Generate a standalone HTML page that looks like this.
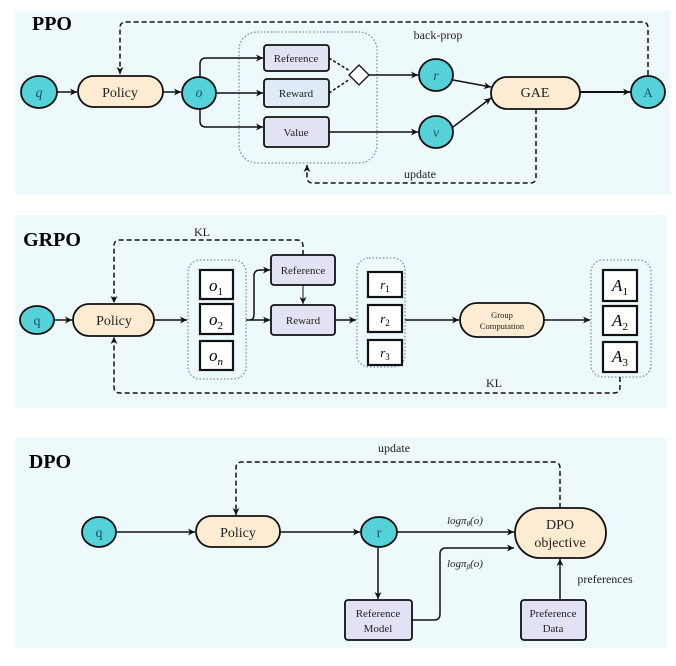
<!DOCTYPE html>
<html><head><meta charset="utf-8"><style>
html,body{margin:0;padding:0;background:#fff;}
svg{display:block;font-family:"Liberation Serif",serif;}
</style></head><body>
<svg width="676" height="666" viewBox="0 0 676 666" xmlns="http://www.w3.org/2000/svg">
<defs>
<marker id="ah" markerWidth="8" markerHeight="8" refX="7" refY="4" orient="auto" markerUnits="userSpaceOnUse">
<path d="M0,0.5 L7,4 L0,7.5 L2,4 Z" fill="#111"/></marker>
</defs>
<rect x="15" y="11" width="655" height="184" fill="#eef9fc"/>
<rect x="15" y="215" width="651" height="193" fill="#eef9fc"/>
<rect x="15" y="437" width="651" height="211" fill="#eef9fc"/>

<g stroke="#111" stroke-width="1.5" fill="none">
<!-- PPO -->
<rect x="239" y="32" width="138" height="131" rx="18" stroke="#7a8fa0" stroke-dasharray="1.5,2" stroke-width="1.3"/>
<path d="M648,75 V28 Q648,22 642,22 H126 Q120,22 120,28 V74" stroke-dasharray="5,3" marker-end="url(#ah)"/>
<path d="M536,109 V177 Q536,183 530,183 H313 Q307,183 307,177 V165" stroke-dasharray="5,3" marker-end="url(#ah)"/>
<line x1="57" y1="92" x2="77" y2="92" marker-end="url(#ah)"/>
<line x1="163" y1="92" x2="181" y2="92" marker-end="url(#ah)"/>
<path d="M200,77 V64 Q200,58 206,58 H263" marker-end="url(#ah)"/>
<line x1="216" y1="93" x2="263" y2="93" marker-end="url(#ah)"/>
<path d="M200,108 V121 Q200,127 206,127 H263" marker-end="url(#ah)"/>
<line x1="329" y1="58" x2="350" y2="71" stroke-dasharray="3,2"/>
<line x1="329" y1="93" x2="350" y2="79" stroke-dasharray="3,2"/>
<line x1="369" y1="75" x2="418" y2="75" marker-end="url(#ah)"/>
<line x1="329" y1="132" x2="418" y2="132" marker-end="url(#ah)"/>
<line x1="453" y1="80" x2="491" y2="87" marker-end="url(#ah)"/>
<line x1="453" y1="127" x2="491" y2="98" marker-end="url(#ah)"/>
<line x1="580" y1="92" x2="630" y2="92" marker-end="url(#ah)" stroke-width="2"/>
<!-- GRPO -->
<rect x="188" y="260" width="58" height="119" rx="12" stroke="#7a8fa0" stroke-dasharray="1.5,2" stroke-width="1.3"/>
<rect x="357" y="258" width="48" height="109" rx="12" stroke="#7a8fa0" stroke-dasharray="1.5,2" stroke-width="1.3"/>
<rect x="591" y="260" width="60" height="117" rx="12" stroke="#7a8fa0" stroke-dasharray="1.5,2" stroke-width="1.3"/>
<path d="M303,255 V246 Q303,240 297,240 H120 Q114,240 114,246 V303" stroke-dasharray="5,3" marker-end="url(#ah)"/>
<path d="M620,377 V387 Q620,393 614,393 H120 Q114,393 114,387 V337" stroke-dasharray="5,3" marker-end="url(#ah)"/>
<line x1="54" y1="320" x2="72" y2="320" marker-end="url(#ah)"/>
<line x1="154" y1="320" x2="187" y2="320" marker-end="url(#ah)"/>
<line x1="246" y1="320" x2="270" y2="320" marker-end="url(#ah)"/>
<path d="M250,320 Q254,320 254,314 V276 Q254,270 260,270 H270" marker-end="url(#ah)"/>
<line x1="303" y1="285" x2="303" y2="304" marker-end="url(#ah)" stroke-width="1"/>
<line x1="335" y1="320" x2="356" y2="320" marker-end="url(#ah)"/>
<line x1="405" y1="320" x2="459" y2="320" marker-end="url(#ah)"/>
<line x1="544" y1="320" x2="590" y2="320" marker-end="url(#ah)"/>
<!-- DPO -->
<path d="M560,508 V468 Q560,462 554,462 H242 Q236,462 236,468 V515" stroke-dasharray="5,3" marker-end="url(#ah)"/>
<line x1="117" y1="532" x2="195" y2="532" marker-end="url(#ah)"/>
<line x1="280" y1="532" x2="360" y2="532" marker-end="url(#ah)"/>
<line x1="397" y1="532" x2="514" y2="532" marker-end="url(#ah)"/>
<line x1="378" y1="548" x2="378" y2="599" marker-end="url(#ah)"/>
<path d="M412,620 H434 Q440,620 440,614 V554 Q440,548 446,548 H514" marker-end="url(#ah)"/>
<line x1="560" y1="600" x2="560" y2="559" marker-end="url(#ah)"/>
</g>

<!-- PPO nodes -->
<g stroke="#111" stroke-width="1.8">
<ellipse cx="39" cy="92" rx="18" ry="16" fill="#55d1d8"/>
<rect x="78" y="76" width="85" height="31" rx="15.5" fill="#fdebd2"/>
<ellipse cx="199" cy="93" rx="17" ry="16" fill="#55d1d8"/>
<rect x="264" y="45" width="65" height="26" rx="3" fill="#e2e2f5"/>
<rect x="264" y="79" width="65" height="28" rx="3" fill="#deeaf6"/>
<rect x="264" y="117" width="65" height="30" rx="3" fill="#e2e2f5"/>
<path d="M359,65 L369,75 L359,85 L349,75 Z" fill="#fff" stroke-width="1.3"/>
<ellipse cx="436" cy="75" rx="17" ry="16" fill="#55d1d8"/>
<ellipse cx="436" cy="132" rx="17" ry="16" fill="#55d1d8"/>
<rect x="491" y="77" width="89" height="32" rx="16" fill="#fdebd2"/>
<ellipse cx="648" cy="92" rx="17" ry="16" fill="#55d1d8"/>
<!-- GRPO -->
<ellipse cx="37" cy="320" rx="17" ry="14" fill="#55d1d8"/>
<rect x="73" y="304" width="81" height="32" rx="16" fill="#fdebd2"/>
<rect x="200" y="270" width="33" height="29" fill="#fff" stroke-width="2.2"/>
<rect x="200" y="304" width="33" height="30" fill="#fff" stroke-width="2.2"/>
<rect x="200" y="341" width="33" height="29" fill="#fff" stroke-width="2.2"/>
<rect x="271" y="255" width="64" height="30" rx="3" fill="#e2e2f5"/>
<rect x="271" y="305" width="64" height="30" rx="3" fill="#e2e2f5"/>
<rect x="368" y="272" width="34" height="25" fill="#fff" stroke-width="2.2"/>
<rect x="368" y="305" width="34" height="27" fill="#fff" stroke-width="2.2"/>
<rect x="368" y="340" width="34" height="25" fill="#fff" stroke-width="2.2"/>
<rect x="460" y="303" width="84" height="34" rx="17" fill="#fdebd2"/>
<rect x="603" y="270" width="34" height="31" fill="#fff" stroke-width="2.2"/>
<rect x="603" y="306" width="34" height="29" fill="#fff" stroke-width="2.2"/>
<rect x="603" y="342" width="34" height="30" fill="#fff" stroke-width="2.2"/>
<!-- DPO -->
<ellipse cx="99" cy="532" rx="17" ry="15" fill="#55d1d8"/>
<rect x="196" y="516" width="84" height="31" rx="15.5" fill="#fdebd2"/>
<ellipse cx="379" cy="532" rx="18" ry="15" fill="#55d1d8"/>
<rect x="515" y="508" width="91" height="50" rx="25" fill="#fdebd2"/>
<rect x="345" y="600" width="67" height="40" rx="3" fill="#e2e2f5"/>
<rect x="521" y="600" width="65" height="40" rx="3" fill="#e2e2f5"/>
</g>

<g fill="#222" text-anchor="middle" font-size="12">
<text x="52" y="30" font-size="20" font-weight="bold" fill="#000">PPO</text>
<text x="39" y="97" font-style="italic" font-size="14" fill="#1a4f6a">q</text>
<text x="120" y="97" font-size="14">Policy</text>
<text x="199" y="97" font-style="italic" font-size="14" fill="#1a4f6a">o</text>
<text x="296" y="62" font-size="11">Reference</text>
<text x="296" y="97" font-size="11">Reward</text>
<text x="296" y="136" font-size="11">Value</text>
<text x="436" y="80" font-style="italic" font-size="14" fill="#1a4f6a">r</text>
<text x="436" y="137" font-style="italic" font-size="14" fill="#1a4f6a">v</text>
<text x="535" y="97" font-size="14">GAE</text>
<text x="648" y="97" font-size="13" fill="#1a4f6a">A</text>
<text x="438" y="39" font-size="12">back-prop</text>
<text x="420" y="178" font-size="12">update</text>

<text x="52" y="246" font-size="20" font-weight="bold" fill="#000">GRPO</text>
<text x="202" y="236" font-size="12">KL</text>
<text x="494" y="387" font-size="12">KL</text>
<text x="37" y="325" font-size="14" fill="#1a4f6a">q</text>
<text x="114" y="325" font-size="14">Policy</text>
<text x="216" y="291" font-style="italic" font-size="17" fill="#000">o<tspan font-size="11" font-style="normal" dy="4">1</tspan></text>
<text x="216" y="325" font-style="italic" font-size="17" fill="#000">o<tspan font-size="11" font-style="normal" dy="4">2</tspan></text>
<text x="216" y="361" font-style="italic" font-size="17" fill="#000">o<tspan font-size="11" dy="4">n</tspan></text>
<text x="303" y="274" font-size="11">Reference</text>
<text x="303" y="324" font-size="11">Reward</text>
<text x="385" y="289" font-style="italic" font-size="13" fill="#000">r<tspan font-size="9" font-style="normal" dy="3">1</tspan></text>
<text x="385" y="323" font-style="italic" font-size="13" fill="#000">r<tspan font-size="9" font-style="normal" dy="3">2</tspan></text>
<text x="385" y="357" font-style="italic" font-size="13" fill="#000">r<tspan font-size="9" font-style="normal" dy="3">3</tspan></text>
<text x="502" y="318" font-size="8.5">Group</text>
<text x="502" y="329" font-size="8.5">Computation</text>
<text x="620" y="291" font-style="italic" font-size="17" fill="#000">A<tspan font-size="11" font-style="normal" dy="4">1</tspan></text>
<text x="620" y="326" font-style="italic" font-size="17" fill="#000">A<tspan font-size="11" font-style="normal" dy="4">2</tspan></text>
<text x="620" y="362" font-style="italic" font-size="17" fill="#000">A<tspan font-size="11" font-style="normal" dy="4">3</tspan></text>

<text x="50" y="468" font-size="20" font-weight="bold" fill="#000">DPO</text>
<text x="394" y="452" font-size="12">update</text>
<text x="99" y="537" font-size="14" fill="#1a4f6a">q</text>
<text x="238" y="537" font-size="14">Policy</text>
<text x="379" y="537" font-size="14" fill="#1a4f6a">r</text>
<text x="560" y="529" font-size="14">DPO</text>
<text x="560" y="547" font-size="14">objective</text>
<text x="378" y="617" font-size="11">Reference</text>
<text x="378" y="632" font-size="11">Model</text>
<text x="553" y="617" font-size="11">Preference</text>
<text x="553" y="632" font-size="11">Data</text>
<text x="605" y="583" font-size="12">preferences</text>
<text x="447" y="524" font-size="11" text-anchor="start" font-style="italic">logπ<tspan font-size="7" dy="2">θ</tspan><tspan dy="-2">(o)</tspan></text>
<text x="447" y="567" font-size="11" text-anchor="start" font-style="italic">logπ<tspan font-size="7" dy="2">β</tspan><tspan dy="-2">(o)</tspan></text>
</g>
</svg>
</body></html>
